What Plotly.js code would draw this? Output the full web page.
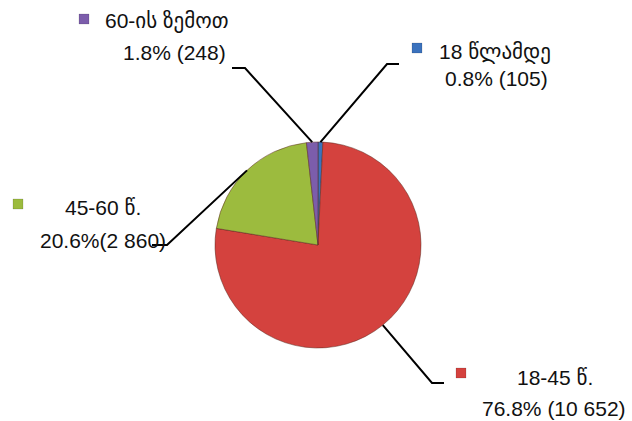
<!DOCTYPE html>
<html><head><meta charset="utf-8">
<script src="https://cdn.plot.ly/plotly-3.0.1.min.js"></script>
<style>html,body{margin:0;padding:0;background:#fff}#c{width:632px;height:421px}</style>
</head><body><div id="c"></div>
<script>
const categories = ["18 წლამდე", "18-45 წ.", "45-60 წ.", "60-ის ზემოთ"];
const counts = [105, 10652, 2860, 248];
const percentLabels = ["0.8% (105)", "76.8% (10 652)", "20.6%(2 860)", "1.8% (248)"];
const colors = ["#3b72bd", "#d4423e", "#9cbb3e", "#7c5dab"];

const W = 632, H = 421;
const CX = 318, CY = 245, R = 103;
const px = x => x / W, py = y => 1 - y / H;

// label layout (pixels)
const labelLayout = [
  {elbow:[387,64], end:[399,64], key:[412,43], name:[437,52,'left'], pct:[443,79,'left']},
  {elbow:[432,383], end:[444,383], key:[456,368], name:[515,377,'left'], pct:[628,408,'right']},
  {elbow:[167,245], end:[152,245], key:[13,199], name:[63,207,'left'], pct:[38,240,'left']},
  {elbow:[245,68], end:[232,68], key:[79,14], name:[103,21,'left'], pct:[228,53,'right']}
];

const total = counts.reduce((a,b)=>a+b,0);
let cum = 0;
const shapes = [], annotations = [];
const font = {family: "Liberation Sans, DejaVu Sans, sans-serif", size: 21, color: "#111"};
counts.forEach((v,i)=>{
  const mid = (cum + v/2) / total; cum += v;
  const ang = mid * 2 * Math.PI;
  const sx = CX + R * Math.sin(ang), sy = CY - R * Math.cos(ang);
  const L = labelLayout[i];
  shapes.push({type:'path', xref:'paper', yref:'paper',
    path:`M ${px(sx)} ${py(sy)} L ${px(L.elbow[0])} ${py(L.elbow[1])} L ${px(L.end[0])} ${py(L.end[1])}`,
    line:{color:'#000', width:2}});
  shapes.push({type:'rect', xref:'paper', yref:'paper',
    x0:px(L.key[0]), x1:px(L.key[0]+10), y0:py(L.key[1]), y1:py(L.key[1]+10),
    fillcolor:colors[i], line:{color:'rgba(0,0,0,0.25)', width:0.5}});
  annotations.push({xref:'paper', yref:'paper', x:px(L.name[0]), y:py(L.name[1]),
    xanchor:L.name[2], yanchor:'middle', text:categories[i], showarrow:false, font});
  annotations.push({xref:'paper', yref:'paper', x:px(L.pct[0]), y:py(L.pct[1]),
    xanchor:L.pct[2], yanchor:'middle', text:percentLabels[i], showarrow:false, font});
});

const data = [{
  type:'pie', labels:categories, values:counts, sort:false, direction:'clockwise', rotation:0,
  marker:{colors, line:{color:'rgba(90,40,30,0.5)', width:1}},
  textinfo:'none', hoverinfo:'label+value+percent',
  domain:{x:[px(CX-R), px(CX+R)], y:[py(CY+R), py(CY-R)]}
}];
const layout = {width:W, height:H, margin:{l:0,r:0,t:0,b:0}, showlegend:false,
  paper_bgcolor:'#fff', shapes, annotations};
Plotly.newPlot('c', data, layout, {displayModeBar:false, staticPlot:true});
</script></body></html>
